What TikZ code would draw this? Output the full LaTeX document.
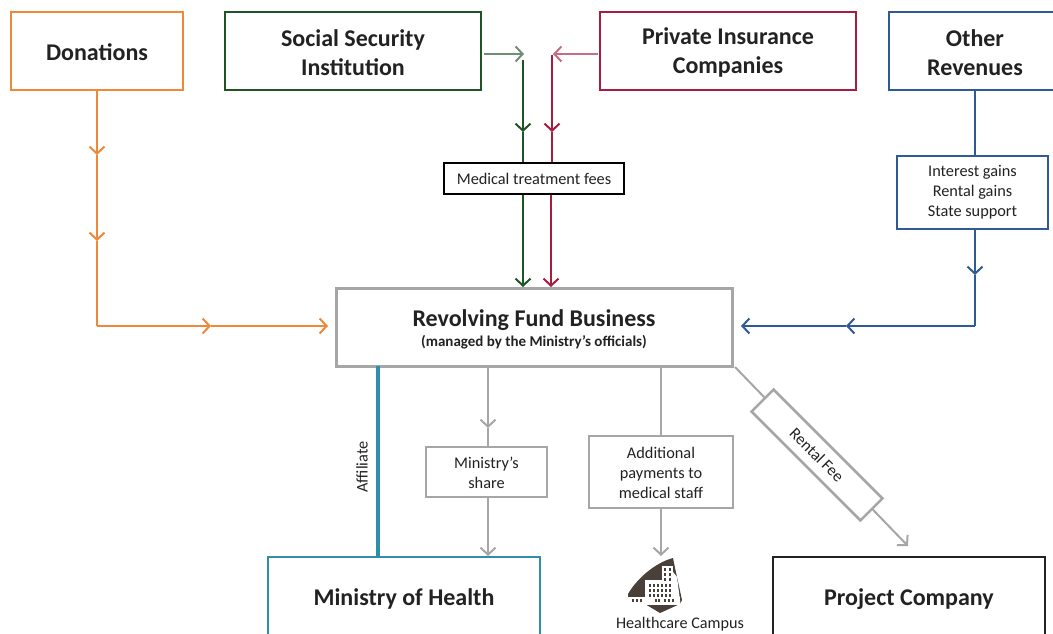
\documentclass[tikz,border=0pt]{standalone}
\usepackage{fontspec}
\setmainfont{Carlito}
\usetikzlibrary{arrows.meta}
\definecolor{corange}{HTML}{F0883A}
\definecolor{cgreen}{HTML}{1E5426}
\definecolor{cred}{HTML}{A51E40}
\definecolor{cblue}{HTML}{2F5A96}
\definecolor{cteal}{HTML}{2F8FA8}
\definecolor{cgray}{HTML}{A6A6A6}
\definecolor{cicon}{HTML}{4A403A}
\definecolor{ctext}{HTML}{222222}
\tikzset{
  x=1pt,y=-1pt,
  >={Straight Barb[length=7pt,width=15pt,line width=2pt]},
  base/.style={draw,rectangle,inner sep=0pt,align=center,fill=white,text=ctext},
  big/.style={base,line width=2.8pt,font=\fontsize{24}{29}\selectfont\bfseries},
  small/.style={base,line width=2.2pt,font=\fontsize{16.3}{20}\selectfont},
  conn/.style={line width=2pt},
}
\begin{document}
\begin{tikzpicture}
\useasboundingbox (0,0) rectangle (1053,634);
\clip (0,0) rectangle (1053,634);
% main boxes
\node[big,draw=corange,minimum width=172pt,minimum height=78pt] (don) at (97,51) {\rule{0pt}{20pt}Donations};
\node[big,draw=cgreen,minimum width=256pt,minimum height=78pt] (ssi) at (353,51) {\rule{0pt}{20pt}Social Security\\Institution};
\node[big,draw=cred,minimum width=256pt,minimum height=78pt] (pic) at (728,51) {\rule{0pt}{20pt}Private Insurance\\Companies};
\node[big,draw=cblue,minimum width=172pt,minimum height=78pt] (oth) at (975,51) {\rule{0pt}{20pt}Other\\Revenues};
\node[base,draw=cgray,line width=3pt,minimum width=396pt,minimum height=78pt] (rev) at (534,327)
  {\fontsize{24}{26}\selectfont\bfseries\rule{0pt}{21pt}Revolving Fund Business\\[4pt]\fontsize{15}{19}\selectfont\bfseries (managed by the Ministry’s officials)};
\node[big,draw=cteal,line width=2.2pt,minimum width=272pt,minimum height=78pt] (moh) at (404,596) {\rule{0pt}{23pt}Ministry of Health};
\node[big,draw=ctext,minimum width=272pt,minimum height=78pt] (prj) at (909,596) {\rule{0pt}{23pt}Project Company};
% intermediate coordinates
\coordinate (o1) at (97,155);
\coordinate (o2) at (97,241);
\coordinate (o3) at (97,326);
\coordinate (o4) at (211,326);
\coordinate (g0) at (484,54);
\coordinate (g1) at (524,54);
\coordinate (g2) at (523,60);
\coordinate (g3) at (523,132);
\coordinate (r0) at (598,54);
\coordinate (r1) at (553,54);
\coordinate (r2) at (552,55);
\coordinate (r3) at (552,132);
\coordinate (b1) at (975,275);
\coordinate (b2) at (975,326);
\coordinate (b3) at (846,326);
\coordinate (a1) at (488,428);
\coordinate (a2) at (661,436);
\coordinate (a3) at (908,546);
% orange
\draw[conn,corange,->] (don.south -| o1) -- (o1);
\draw[conn,corange,->] (o1) -- (o2);
\draw[conn,corange] (o2) -- (o3);
\draw[conn,corange,->] (o3) -- (o4);
\draw[conn,corange,->] (o4) -- (328,326);
% green, red
\draw[conn,cgreen!65,->] (g0) -- (g1);
\draw[conn,cred!65,->] (r0) -- (r1);
\draw[conn,cgreen,->] (g2) -- (g3);
\draw[conn,cgreen] (g3) -- (523,170);
\draw[conn,cgreen,->] (523,190) -- (523,287);
\draw[conn,cred,->] (r2) -- (r3);
\draw[conn,cred] (r3) -- (552,170);
\draw[conn,cred,->] (551,190) -- (551,287);
% blue
\draw[conn,cblue] (oth.south) -- (975,160);
\draw[conn,cblue,->] (975,225) -- (b1);
\draw[conn,cblue] (b1) -- (b2);
\draw[conn,cblue,->] (b2) -- (b3);
\draw[conn,cblue,->] (b3) -- (741,326);
% lower
\draw[cteal,line width=4pt] (378,366) -- (378,557);
\draw[conn,cgray,->] (488,366) -- (a1);
\draw[conn,cgray] (a1) -- (488,450);
\draw[conn,cgray,->] (488,495) -- (488,556);
\draw[conn,cgray] (661,366) -- (a2);
\draw[conn,cgray,->] (661,505) -- (661,556);
\draw[conn,cgray,->] (735,367) -- (a3);
% label boxes
\node[small,draw=black,line width=2.8pt,minimum width=180pt,minimum height=31pt] (fee) at (534,178.5) {Medical treatment fees};
\node[small,draw=cblue,minimum width=151pt,minimum height=73pt] (int) at (972.5,192.5) {Interest gains\\Rental gains\\State support};
\node[small,draw=cgray,minimum width=121pt,minimum height=50pt] (shr) at (486.5,472) {\rule{0pt}{14pt}Ministry’s\\share};
\node[small,draw=cgray,line width=2.6pt,minimum width=144pt,minimum height=72pt] (add) at (661,472) {\rule{0pt}{14pt}Additional\\payments to\\medical staff};
\node[small,draw=cgray,line width=2.6pt,minimum width=154pt,minimum height=31pt,rotate=-45] (ren) at (817,455) {Rental Fee};
\node[font=\fontsize{16.3}{18}\selectfont,text=ctext,rotate=90] (aff) at (362,467) {Affiliate};
% hospital icon
\fill[cicon] (628,594) .. controls (636,580) and (654,563) .. (673,558) -- (675,568) -- (677,577) -- (682,600) -- (680,604) -- (660,613) -- (645,604) -- (628,604) -- cycle;
\fill[white] (645,580) rectangle (673,603);
\fill[white] (662,566) rectangle (673,582);
\fill[white] (673,572) -- (677,577) -- (680.5,604) -- (673,604) -- cycle;
\fill[white] (628,597) rectangle (680,605);
\foreach \px in {648.5,652.5,656.5,660.5,664.5,668.5}
  \foreach \py in {584,589,594}
    \fill[cicon] (\px,\py) rectangle +(2,2.5);
\foreach \px in {664,669} \foreach \py in {568,573,578} \fill[cicon] (\px,\py) rectangle +(2,2.5);
\foreach \px in {632,636,640,655,658,664,668,672} \fill[cicon] (\px,598.5) rectangle +(2.2,3);
\node[font=\fontsize{16.2}{18}\selectfont,text=ctext,inner sep=0pt] (cam) at (680,624) {Healthcare Campus};
\end{tikzpicture}
\end{document}
